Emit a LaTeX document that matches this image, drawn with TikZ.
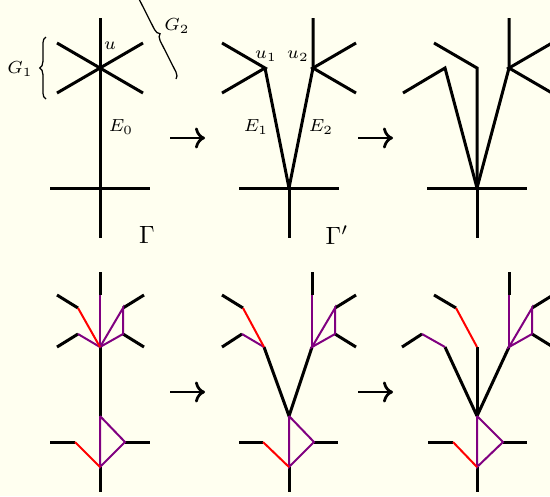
\documentclass[tikz,border=0pt]{standalone}
\usepackage{amsmath,amssymb}
\usepackage{tikz}
\usetikzlibrary{arrows.meta,decorations.pathreplacing}
\usepackage{xcolor}
\definecolor{GraphBg}{HTML}{FFFFF0}
\definecolor{GraphPurple}{HTML}{800080}
\definecolor{GraphRed}{HTML}{FF0000}
\definecolor{GraphBlack}{HTML}{000000}
\tikzset{
    % Base edge style
    baseedge/.style={
        draw=GraphBlack,
        line width=1.2pt
    },
    % Subdivided edge (purple)
    purpleedge/.style={
        draw=GraphPurple,
        line width=0.8pt
    },
    % Cut edge (red)
    rededge/.style={
        draw=GraphRed,
        line width=0.8pt
    },
    % Step arrow between graphs
    steparrow/.style={
        ->,
        line width=1.1pt,
        draw=GraphBlack
    },
    % Labels
    edgelabel/.style={
        font=\scriptsize,
        inner sep=0pt
    },
    graphlabel/.style={
        font=\normalsize,
        inner sep=0pt
    },
    % Brace
    groupbrace/.style={
        draw=GraphBlack,
        line width=0.5pt,
        decorate,
        decoration={brace,mirror,amplitude=2.5pt}
    }
}
\begin{document}
\begin{tikzpicture}[x=0.4pt, y=-0.4pt]
    \fill[GraphBg] (0,0) rectangle (550,496);
    \useasboundingbox (0,0) rectangle (550,496);

    % ---- top left: Gamma
    \coordinate (u) at (100,67);
    \coordinate (w0) at (100,188);
    \coordinate (t0) at (100,18);
    \coordinate (b0) at (100,238);
    \coordinate (l0) at (50,188);
    \coordinate (r0) at (150,188);
    \coordinate (ga) at (57,43);
    \coordinate (gb) at (57,93);
    \coordinate (gc) at (143,43);
    \coordinate (gd) at (143,93);
    \draw[baseedge] (t0) -- (b0);
    \draw[baseedge] (l0) -- (r0);
    \draw[baseedge] (ga) -- (gd);
    \draw[baseedge] (gb) -- (gc);
    \node[edgelabel] (ulab) at (110,46) {$u$};
    \node[edgelabel] (e0lab) at (121,127) {$E_0$};
    \node[edgelabel] (g1lab) at (20,69) {$G_1$};
    \node[edgelabel] (g2lab) at (177,26) {$G_2$};
    \node[graphlabel] (gamma) at (147,235) {$\Gamma$};
    \coordinate (g1top) at (46,37);
    \coordinate (g1bot) at (46,99);
    \coordinate (g2top) at (133,-6);
    \coordinate (g2bot) at (176,79);
    \draw[groupbrace] (g1top) -- (g1bot);
    \draw[groupbrace] (g2bot) -- (g2top);

    % ---- top middle: Gamma'
    \coordinate (w1) at (289,188);
    \coordinate (u1) at (265,68);
    \coordinate (u2) at (313,68);
    \coordinate (b1) at (289,238);
    \coordinate (l1) at (239,188);
    \coordinate (r1) at (339,188);
    \coordinate (t1) at (313,18);
    \coordinate (ha) at (222,43);
    \coordinate (hb) at (222,93);
    \coordinate (hc) at (356,43);
    \coordinate (hd) at (356,93);
    \draw[baseedge] (w1) -- (b1);
    \draw[baseedge] (l1) -- (r1);
    \draw[baseedge] (w1) -- (u1);
    \draw[baseedge] (w1) -- (u2) -- (t1);
    \draw[baseedge] (ha) -- (u1) -- (hb);
    \draw[baseedge] (hc) -- (u2) -- (hd);
    \node[edgelabel] (u1lab) at (266,56) {$u_1$};
    \node[edgelabel] (u2lab) at (298,56) {$u_2$};
    \node[edgelabel] (e1lab) at (256,127) {$E_1$};
    \node[edgelabel] (e2lab) at (321,127) {$E_2$};
    \node[graphlabel] (gammap) at (337,235) {$\Gamma'$};

    % ---- top right
    \coordinate (w2) at (477,188);
    \coordinate (b2) at (477,238);
    \coordinate (l2) at (427,188);
    \coordinate (r2) at (527,188);
    \coordinate (v1) at (445,68);
    \coordinate (v2) at (477,68);
    \coordinate (v3) at (509,68);
    \coordinate (ia) at (403,93);
    \coordinate (ib) at (434,43);
    \coordinate (ic) at (509,18);
    \coordinate (id) at (552,43);
    \coordinate (ie) at (552,93);
    \draw[baseedge] (w2) -- (b2);
    \draw[baseedge] (l2) -- (r2);
    \draw[baseedge] (ia) -- (v1) -- (w2);
    \draw[baseedge] (ib) -- (v2) -- (w2);
    \draw[baseedge] (ic) -- (v3) -- (w2);
    \draw[baseedge] (id) -- (v3) -- (ie);

    % ---- arrows
    \coordinate (a1s) at (170,138);
    \coordinate (a1e) at (205,138);
    \coordinate (a2s) at (358,138);
    \coordinate (a2e) at (393,138);
    \coordinate (a3s) at (170,392);
    \coordinate (a3e) at (205,392);
    \coordinate (a4s) at (358,392);
    \coordinate (a4e) at (393,392);
    \draw[steparrow] (a1s) -- (a1e);
    \draw[steparrow] (a2s) -- (a2e);
    \draw[steparrow] (a3s) -- (a3e);
    \draw[steparrow] (a4s) -- (a4e);

    % ---- bottom left
    \coordinate (p1) at (100,347);
    \coordinate (p1t) at (100,272);
    \coordinate (p1m) at (100,295);
    \coordinate (q1) at (100,416);
    \coordinate (s1) at (100,467);
    \coordinate (s1b) at (100,492);
    \coordinate (s1r) at (125,442);
    \coordinate (s1rr) at (150,442);
    \coordinate (s1l) at (75,442);
    \coordinate (s1ll) at (50,442);
    \coordinate (p1a) at (78,308);
    \coordinate (p1aa) at (57,295);
    \coordinate (p1b) at (78,334);
    \coordinate (p1bb) at (57,347);
    \coordinate (p1c) at (123,308);
    \coordinate (p1cc) at (144,295);
    \coordinate (p1d) at (123,334);
    \coordinate (p1dd) at (144,347);
    \draw[baseedge] (p1t) -- (p1m);
    \draw[baseedge] (p1) -- (q1);
    \draw[baseedge] (s1) -- (s1b);
    \draw[baseedge] (s1r) -- (s1rr);
    \draw[baseedge] (s1l) -- (s1ll);
    \draw[baseedge] (p1a) -- (p1aa);
    \draw[baseedge] (p1b) -- (p1bb);
    \draw[baseedge] (p1c) -- (p1cc);
    \draw[baseedge] (p1d) -- (p1dd);
    \draw[purpleedge] (p1m) -- (p1);
    \draw[purpleedge] (p1b) -- (p1) -- (p1c) -- (p1d) -- (p1);
    \draw[purpleedge] (q1) -- (s1) -- (s1r) -- (q1);
    \draw[rededge] (p1) -- (p1a);
    \draw[rededge] (s1) -- (s1l);

    % ---- bottom middle
    \coordinate (p2) at (264,347);
    \coordinate (p3) at (312,347);
    \coordinate (q2) at (289,416);
    \coordinate (s2) at (289,467);
    \coordinate (s2b) at (289,492);
    \coordinate (s2r) at (314,442);
    \coordinate (s2rr) at (338,442);
    \coordinate (s2l) at (263,442);
    \coordinate (s2ll) at (239,442);
    \coordinate (p2a) at (243,308);
    \coordinate (p2aa) at (222,295);
    \coordinate (p2b) at (242,334);
    \coordinate (p2bb) at (222,347);
    \coordinate (p3m) at (312,295);
    \coordinate (p3t) at (312,272);
    \coordinate (p3c) at (335,308);
    \coordinate (p3cc) at (356,295);
    \coordinate (p3d) at (335,334);
    \coordinate (p3dd) at (356,347);
    \draw[baseedge] (p2) -- (q2) -- (p3);
    \draw[baseedge] (s2) -- (s2b);
    \draw[baseedge] (s2r) -- (s2rr);
    \draw[baseedge] (s2l) -- (s2ll);
    \draw[baseedge] (p2a) -- (p2aa);
    \draw[baseedge] (p2b) -- (p2bb);
    \draw[baseedge] (p3m) -- (p3t);
    \draw[baseedge] (p3c) -- (p3cc);
    \draw[baseedge] (p3d) -- (p3dd);
    \draw[purpleedge] (p2) -- (p2b);
    \draw[purpleedge] (p3m) -- (p3);
    \draw[purpleedge] (p3d) -- (p3) -- (p3c) -- (p3d);
    \draw[purpleedge] (q2) -- (s2) -- (s2r) -- (q2);
    \draw[rededge] (p2) -- (p2a);
    \draw[rededge] (s2) -- (s2l);

    % ---- bottom right
    \coordinate (q3) at (477,416);
    \coordinate (s3) at (477,467);
    \coordinate (s3b) at (477,492);
    \coordinate (s3r) at (503,442);
    \coordinate (s3rr) at (527,442);
    \coordinate (s3l) at (453,442);
    \coordinate (s3ll) at (428,442);
    \coordinate (p4) at (445,347);
    \coordinate (p5) at (477,347);
    \coordinate (p6) at (509,347);
    \coordinate (p4a) at (422,334);
    \coordinate (p4aa) at (402,347);
    \coordinate (p5a) at (456,308);
    \coordinate (p5aa) at (434,295);
    \coordinate (p6m) at (509,295);
    \coordinate (p6t) at (509,272);
    \coordinate (p6c) at (532,308);
    \coordinate (p6cc) at (553,295);
    \coordinate (p6d) at (532,334);
    \coordinate (p6dd) at (553,347);
    \draw[baseedge] (p4) -- (q3);
    \draw[baseedge] (p5) -- (q3);
    \draw[baseedge] (p6) -- (q3);
    \draw[baseedge] (s3) -- (s3b);
    \draw[baseedge] (s3r) -- (s3rr);
    \draw[baseedge] (s3l) -- (s3ll);
    \draw[baseedge] (p4a) -- (p4aa);
    \draw[baseedge] (p5a) -- (p5aa);
    \draw[baseedge] (p6m) -- (p6t);
    \draw[baseedge] (p6c) -- (p6cc);
    \draw[baseedge] (p6d) -- (p6dd);
    \draw[purpleedge] (p4) -- (p4a);
    \draw[purpleedge] (p6m) -- (p6);
    \draw[purpleedge] (p6d) -- (p6) -- (p6c) -- (p6d);
    \draw[purpleedge] (q3) -- (s3) -- (s3r) -- (q3);
    \draw[rededge] (p5) -- (p5a);
    \draw[rededge] (s3) -- (s3l);
\end{tikzpicture}
\end{document}
